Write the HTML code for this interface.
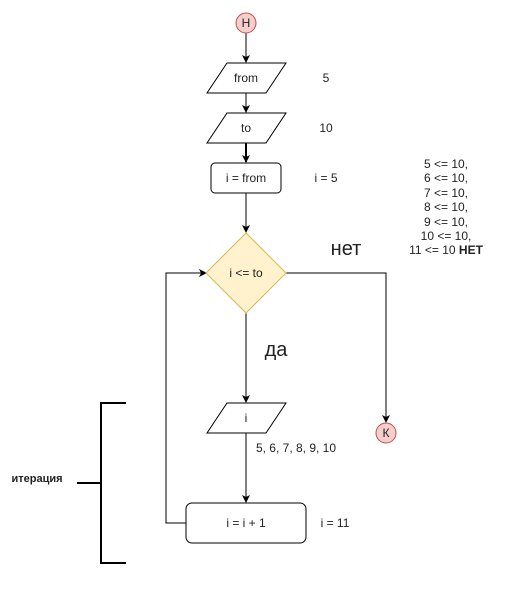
<!DOCTYPE html>
<html><head><meta charset="utf-8"><style>
html,body{margin:0;padding:0;background:#fff;width:516px;height:614px;overflow:hidden}
svg text{font-family:"Liberation Sans",Arial,sans-serif;fill:#222}
</style></head><body>
<svg width="516" height="614" viewBox="0 0 516 614" xmlns="http://www.w3.org/2000/svg">
<defs><marker id="a" markerWidth="8" markerHeight="8" refX="7" refY="4" orient="auto" markerUnits="userSpaceOnUse"><path d="M0,0 L8,4 L0,8 L2,4 Z" fill="#000"/></marker></defs>
<g stroke="#000" fill="none" stroke-width="1">
<line x1="246" y1="33" x2="246" y2="62" marker-end="url(#a)"/>
<line x1="246" y1="93" x2="246" y2="112" marker-end="url(#a)"/>
<line x1="246" y1="143" x2="246" y2="162" marker-end="url(#a)" stroke-width="2"/>
<line x1="246" y1="193" x2="246" y2="232" marker-end="url(#a)"/>
<line x1="246" y1="313" x2="246" y2="402" marker-end="url(#a)"/>
<line x1="246" y1="433" x2="246" y2="502" marker-end="url(#a)"/>
<polyline points="286,273 386,273 386,422" marker-end="url(#a)"/>
<polyline points="186,523 166,523 166,273 206,273" marker-end="url(#a)"/>
<polygon points="227,63 286,63 266,93 207,93"/>
<polygon points="227,113 286,113 266,143 207,143"/>
<rect x="211" y="163" width="70" height="30" rx="4"/>
<polygon points="227,403 286,403 266,433 207,433"/>
<rect x="186" y="503" width="120" height="40" rx="6"/>
<polyline points="126,403 101,403 101,563 126,563" stroke-width="2"/>
<line x1="77" y1="483" x2="101" y2="483" stroke-width="2"/>
</g>
<circle cx="246" cy="23" r="10" fill="#f8cecc" stroke="#b85450"/>
<circle cx="386" cy="433" r="10" fill="#f8cecc" stroke="#b85450"/>
<polygon points="246,233 286,273 246,313 206,273" fill="#fff2cc" stroke="#d6b656"/>
<g font-size="12" text-anchor="middle">
<text x="246" y="27">Н</text>
<text x="386" y="437">К</text>
<text x="246" y="82">from</text>
<text x="246" y="132">to</text>
<text x="246" y="182">i = from</text>
<text x="246" y="277">i &lt;= to</text>
<text x="246" y="422">i</text>
<text x="246" y="527">i = i + 1</text>
<text x="326" y="82">5</text>
<text x="326" y="132">10</text>
<text x="326" y="182">i = 5</text>
<text x="335" y="527">i = 11</text>
<text x="296" y="452">5, 6, 7, 8, 9, 10</text>
<text x="446" y="168">5 &lt;= 10,</text>
<text x="446" y="182">6 &lt;= 10,</text>
<text x="446" y="197">7 &lt;= 10,</text>
<text x="446" y="211">8 &lt;= 10,</text>
<text x="446" y="226">9 &lt;= 10,</text>
<text x="446" y="240">10 &lt;= 10,</text>
<text x="446" y="254">11 &lt;= 10 <tspan font-weight="bold">НЕТ</tspan></text>
<text x="37" y="482" font-weight="bold" font-size="11">итерация</text>
</g>
<text x="346" y="255" font-size="20" text-anchor="middle">нет</text>
<text x="276" y="356" font-size="20" text-anchor="middle">да</text>
</svg>
</body></html>
